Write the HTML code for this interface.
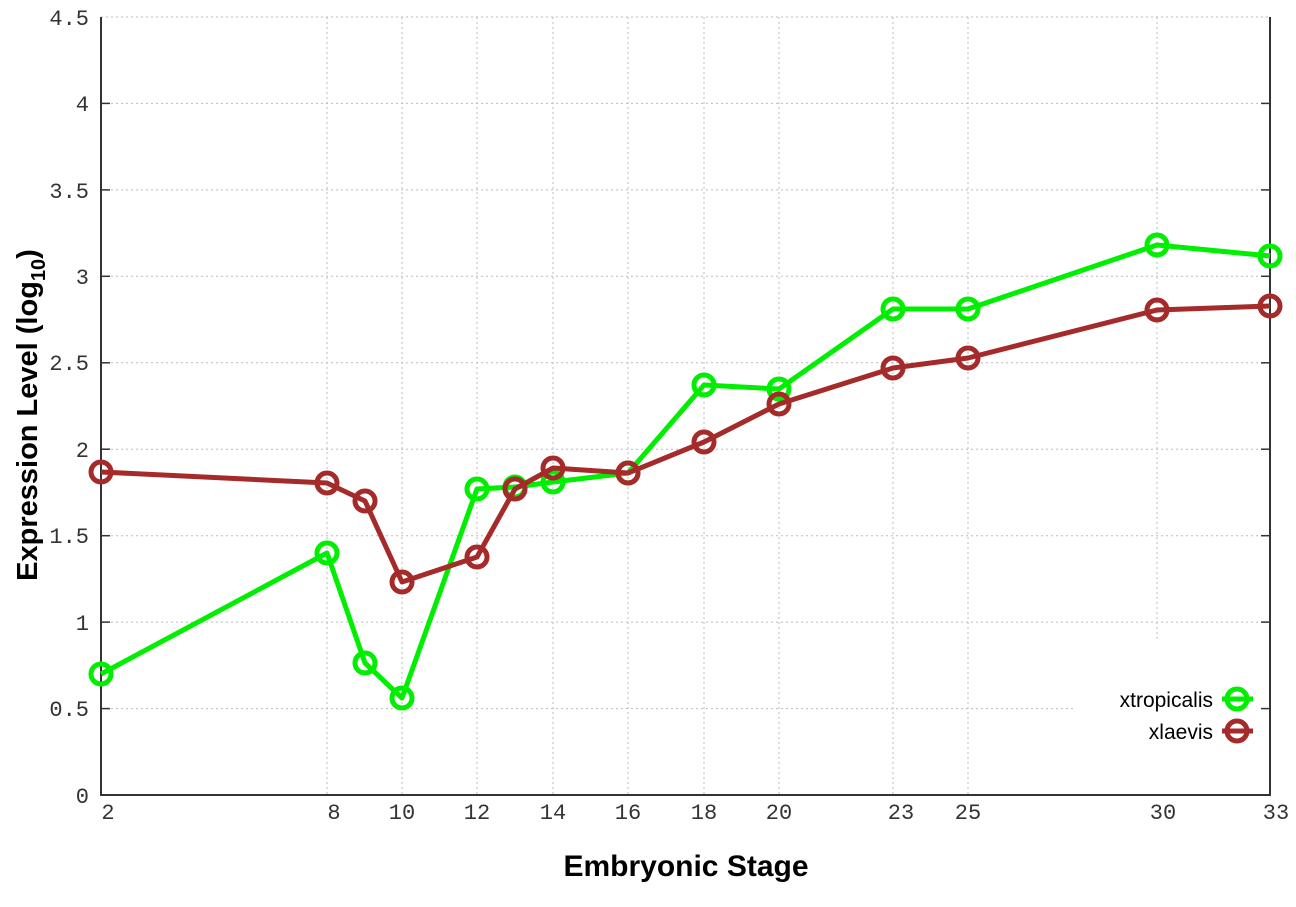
<!DOCTYPE html>
<html><head><meta charset="utf-8"><style>body{margin:0;background:#fff}svg{display:block}</style></head><body>
<svg width="1296" height="907" xmlns="http://www.w3.org/2000/svg">
<g stroke="#bbb" stroke-width="1" stroke-dasharray="2,3">
<line x1="101" x2="1075" y1="708.6" y2="708.6" />
<line x1="101" x2="1270" y1="622.1" y2="622.1"/>
<line x1="101" x2="1270" y1="535.7" y2="535.7"/>
<line x1="101" x2="1270" y1="449.2" y2="449.2"/>
<line x1="101" x2="1270" y1="362.8" y2="362.8"/>
<line x1="101" x2="1270" y1="276.3" y2="276.3"/>
<line x1="101" x2="1270" y1="189.9" y2="189.9"/>
<line x1="101" x2="1270" y1="103.4" y2="103.4"/>
<line x1="101" x2="1270" y1="17" y2="17"/>
<line x1="327" x2="327" y1="17" y2="795"/>
<line x1="402" x2="402" y1="17" y2="795"/>
<line x1="477" x2="477" y1="17" y2="795"/>
<line x1="553" x2="553" y1="17" y2="795"/>
<line x1="628" x2="628" y1="17" y2="795"/>
<line x1="704" x2="704" y1="17" y2="795"/>
<line x1="779" x2="779" y1="17" y2="795"/>
<line x1="893" x2="893" y1="17" y2="795"/>
<line x1="968" x2="968" y1="17" y2="795"/>
<line x1="1157" x2="1157" y1="17" y2="640"/>
</g>
<g stroke="#333" stroke-width="2" fill="none">
<polyline points="101,17 101,795 1270,795 1270,17"/>
</g>
<g stroke="#333" stroke-width="1.5">
<line x1="101" x2="110" y1="708.6" y2="708.6"/><line x1="101" x2="110" y1="622.1" y2="622.1"/><line x1="101" x2="110" y1="535.7" y2="535.7"/><line x1="101" x2="110" y1="449.2" y2="449.2"/><line x1="101" x2="110" y1="362.8" y2="362.8"/><line x1="101" x2="110" y1="276.3" y2="276.3"/><line x1="101" x2="110" y1="189.9" y2="189.9"/><line x1="101" x2="110" y1="103.4" y2="103.4"/>
<line x1="1261" x2="1270" y1="708.6" y2="708.6"/><line x1="1261" x2="1270" y1="622.1" y2="622.1"/><line x1="1261" x2="1270" y1="535.7" y2="535.7"/><line x1="1261" x2="1270" y1="449.2" y2="449.2"/><line x1="1261" x2="1270" y1="362.8" y2="362.8"/><line x1="1261" x2="1270" y1="276.3" y2="276.3"/><line x1="1261" x2="1270" y1="189.9" y2="189.9"/><line x1="1261" x2="1270" y1="103.4" y2="103.4"/>
</g>
<g font-family="Liberation Mono, monospace" font-size="22" fill="#333" text-anchor="end">
<text x="89" y="803">0</text><text x="89" y="716">0.5</text><text x="89" y="630">1</text><text x="89" y="543">1.5</text><text x="89" y="457">2</text><text x="89" y="370">2.5</text><text x="89" y="284">3</text><text x="89" y="198">3.5</text><text x="89" y="111">4</text><text x="89" y="25">4.5</text>
</g>
<g font-family="Liberation Mono, monospace" font-size="22" fill="#333" text-anchor="middle">
<text x="108" y="819">2</text><text x="334" y="819">8</text><text x="402" y="819">10</text><text x="477" y="819">12</text><text x="553" y="819">14</text><text x="628" y="819">16</text><text x="704" y="819">18</text><text x="779" y="819">20</text><text x="901" y="819">23</text><text x="968" y="819">25</text><text x="1163" y="819">30</text><text x="1276" y="819">33</text>
</g>
<text x="686" y="876" text-anchor="middle" font-family="Liberation Sans, sans-serif" font-weight="bold" font-size="30" fill="#000">Embryonic Stage</text>
<text transform="translate(37,415) rotate(-90)" text-anchor="middle" font-family="Liberation Sans, sans-serif" font-weight="bold" font-size="29" fill="#000">Expression Level (log<tspan font-size="20" dy="8">10</tspan><tspan dy="-8">)</tspan></text>
<g fill="none" stroke-width="5" stroke-linejoin="round">
<polyline stroke="#00ee00" points="101,674 327,553 365,663 402,698 477,489 515,487 553,482 628,473 704,385 779,389 893,309 968,309 1157,245 1270,256"/>
<g stroke="#00ee00"><circle cx="101" cy="674" r="10"/><circle cx="327" cy="553" r="10"/><circle cx="365" cy="663" r="10"/><circle cx="402" cy="698" r="10"/><circle cx="477" cy="489" r="10"/><circle cx="515" cy="487" r="10"/><circle cx="553" cy="482" r="10"/><circle cx="628" cy="473" r="10"/><circle cx="704" cy="385" r="10"/><circle cx="779" cy="389" r="10"/><circle cx="893" cy="309" r="10"/><circle cx="968" cy="309" r="10"/><circle cx="1157" cy="245" r="10"/><circle cx="1270" cy="256" r="10"/></g>
<polyline stroke="#a52a2a" points="101,472 327,483 365,501 402,582 477,557 515,489 553,468 628,473 704,442 779,404 893,368 968,358 1157,310 1270,306"/>
<g stroke="#a52a2a"><circle cx="101" cy="472" r="10"/><circle cx="327" cy="483" r="10"/><circle cx="365" cy="501" r="10"/><circle cx="402" cy="582" r="10"/><circle cx="477" cy="557" r="10"/><circle cx="515" cy="489" r="10"/><circle cx="553" cy="468" r="10"/><circle cx="628" cy="473" r="10"/><circle cx="704" cy="442" r="10"/><circle cx="779" cy="404" r="10"/><circle cx="893" cy="368" r="10"/><circle cx="968" cy="358" r="10"/><circle cx="1157" cy="310" r="10"/><circle cx="1270" cy="306" r="10"/></g>
<line x1="1222" x2="1253" y1="699" y2="699" stroke="#00ee00"/><circle cx="1237" cy="699" r="10" stroke="#00ee00"/>
<line x1="1222" x2="1253" y1="731" y2="731" stroke="#a52a2a"/><circle cx="1237" cy="731" r="10" stroke="#a52a2a"/>
</g>
<g font-family="Liberation Sans, sans-serif" font-size="21" fill="#000" text-anchor="end">
<text x="1213" y="707">xtropicalis</text><text x="1213" y="739">xlaevis</text>
</g>
</svg>
</body></html>
